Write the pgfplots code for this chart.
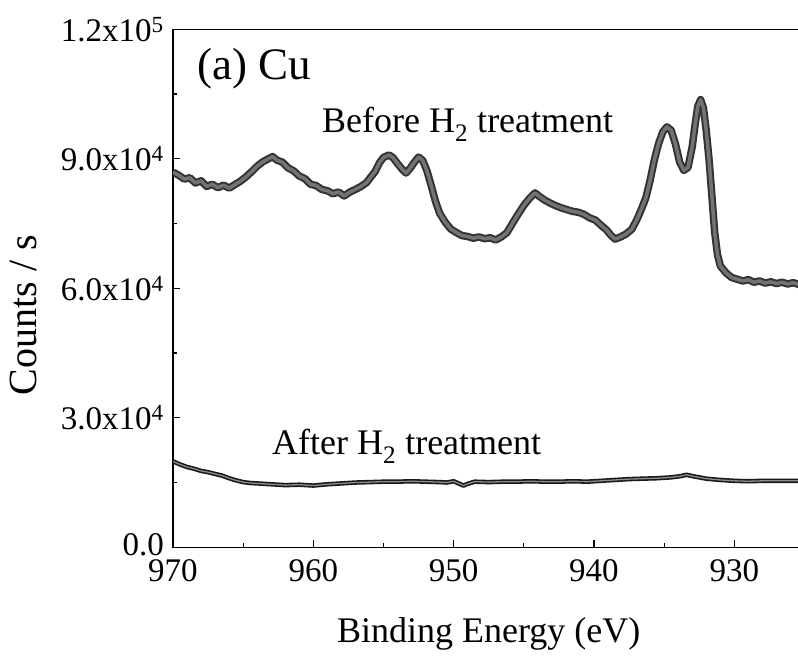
\documentclass[border=0pt]{standalone}
\usepackage{pgfplots}
\pgfplotsset{compat=1.18}
\usepackage{pgfplotstable}
\usepackage{fontspec}
\setmainfont{Liberation Serif}

\pgfplotstableread{
E C
970.0 86900
969.6 86200
969.2 85300
968.8 85600
968.4 84400
968.0 84900
967.6 83600
967.2 84100
966.8 83300
966.4 83900
966.0 83200
965.6 84000
965.2 84800
964.8 85800
964.4 87000
964.0 88300
963.6 89300
963.2 90000
962.9 90500
962.6 89700
962.2 89200
961.8 87900
961.4 87200
961.0 86000
960.6 85400
960.2 84100
959.8 83800
959.4 82900
959.0 82600
958.6 81900
958.2 82300
957.8 81400
957.4 82300
957.0 82900
956.6 83600
956.2 84500
955.9 85800
955.6 87000
955.3 89000
955.0 90300
954.6 90900
954.3 90200
954.0 88900
953.7 87700
953.4 86700
953.1 87800
952.8 89200
952.5 90400
952.2 89600
951.9 87200
951.6 83800
951.3 80200
951.0 77400
950.6 75300
950.2 73700
949.8 72900
949.4 72200
949.0 72000
948.6 71600
948.2 71900
947.8 71500
947.4 71700
947.0 71200
946.6 71900
946.2 72900
945.8 75100
945.4 77200
945.0 79200
944.6 80800
944.2 82100
943.9 81300
943.5 80400
943.1 79700
942.7 79100
942.3 78600
941.9 78200
941.5 77800
941.1 77600
940.7 77100
940.3 76300
939.9 75800
939.5 74600
939.1 73500
938.8 72300
938.5 71400
938.1 71900
937.7 72600
937.3 73700
936.9 76200
936.6 78500
936.3 81000
936.0 85000
935.7 89700
935.4 93500
935.1 96200
934.8 97400
934.5 96600
934.2 93500
933.9 89300
933.6 87300
933.3 88000
933.0 92800
932.8 97800
932.6 102200
932.4 103700
932.2 101800
932.0 96500
931.8 89800
931.6 81500
931.4 73000
931.2 67800
931.0 65200
930.6 63600
930.2 62500
929.8 62100
929.4 61700
929.0 62000
928.6 61400
928.2 61700
927.8 61200
927.4 61500
927.0 61100
926.6 61400
926.2 61000
925.8 61300
925.4 60900
925.0 60700
}\before

\pgfplotstableread{
E C
970.0 19900
969.5 19200
969.0 18600
968.5 18200
968.0 17700
967.5 17400
967.0 17000
966.5 16600
966.0 16000
965.5 15500
965.0 15100
964.5 14900
964.0 14800
963.0 14600
962.0 14400
961.0 14500
960.0 14300
959.0 14600
958.0 14800
957.0 15000
956.0 15100
955.0 15200
954.0 15200
953.0 15300
952.0 15200
951.0 15100
950.5 15000
950.0 15300
949.3 14300
949.0 14700
948.5 15200
947.5 15100
946.5 15200
945.5 15200
944.5 15300
943.5 15200
942.5 15200
941.5 15300
940.5 15200
939.5 15400
938.5 15600
937.5 15800
936.5 15900
935.5 16000
934.5 16200
933.8 16500
933.4 16800
933.0 16500
932.5 16200
932.0 15900
931.0 15600
930.0 15400
929.0 15300
928.0 15400
927.0 15400
926.0 15400
925.0 15400
}\after

\begin{document}
\begin{tikzpicture}
\begin{axis}[
  at={(0pt,0pt)}, anchor=south west,
  width=631.5pt, height=518pt, scale only axis,
  x dir=reverse,
  xmin=925, xmax=970, ymin=0, ymax=120000,
  xtick={930,940,950,960,970},
  xticklabels={930,940,950,960,970},
  minor xtick={925,935,945,955,965},
  ytick={0,30000,60000,90000,120000},
  yticklabels={\raisebox{5pt}{0.0},3.0x10\textsuperscript{4},6.0x10\textsuperscript{4},9.0x10\textsuperscript{4},1.2x10\textsuperscript{5}},
  minor ytick={15000,45000,75000,105000},
  scaled y ticks=false,
  xtick pos=left, ytick pos=left,
  tick align=inside,
  major tick length=7pt, minor tick length=4pt,
  every tick/.style={black, line width=1.2pt},
  axis line style={line width=1.5pt},
  tick label style={font=\fontsize{33}{40}\selectfont},
  yticklabel style={inner sep=1pt, xshift=-8pt},
  xticklabel style={inner sep=1pt, yshift=-11pt},
]
\addplot[black!80, line width=7.5pt, line join=round] table[x=E, y=C] {\before};
\addplot[black!55, line width=3.5pt, line join=round] table[x=E, y=C] {\before};
\addplot[black!90, line width=4.5pt, line join=round] table[x=E, y=C] {\after};
\addplot[black!45, line width=1.3pt, line join=round] table[x=E, y=C] {\after};
\end{axis}
\node[anchor=base west, inner sep=0pt, font=\fontsize{45}{54}\selectfont] at (24pt,467.3pt) {(a) Cu};
\node[anchor=base west, inner sep=0pt, font=\fontsize{36}{43}\selectfont] at (149pt,414.3pt) {Before H\textsubscript{2} treatment};
\node[anchor=base west, inner sep=0pt, font=\fontsize{36}{43}\selectfont] at (99pt,92.3pt) {After H\textsubscript{2} treatment};
\node[anchor=base, inner sep=0pt, font=\fontsize{36}{43}\selectfont] at (315.75pt,-95.7pt) {Binding Energy (eV)};
\node[anchor=base, rotate=90, inner sep=0pt, font=\fontsize{40}{48}\selectfont] at (-136pt,232pt) {Counts / s};
\pgfresetboundingbox
\path[use as bounding box] (-173pt,-110.7pt) rectangle (625pt,547.3pt);
\end{tikzpicture}
\end{document}
